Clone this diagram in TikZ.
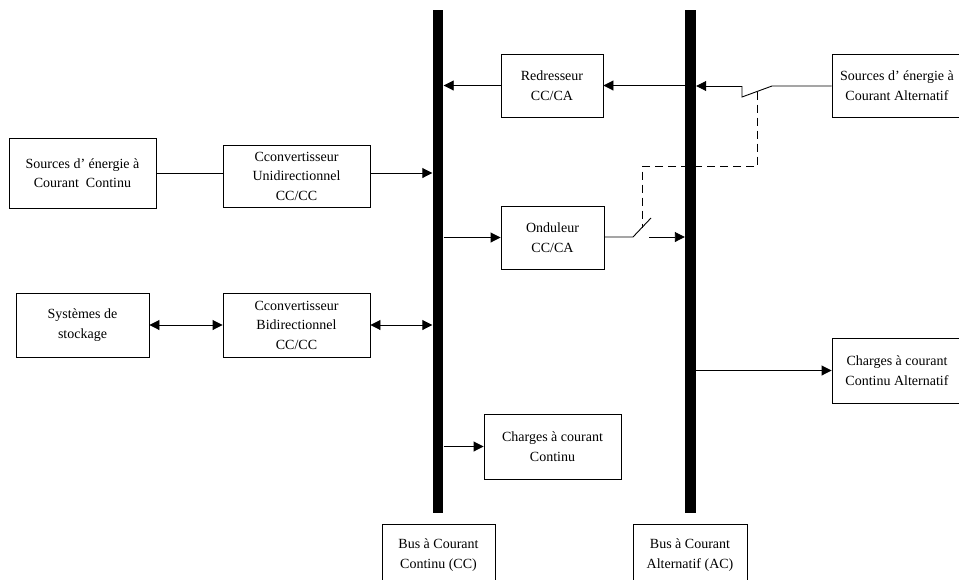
\documentclass[tikz,border=0pt]{standalone}
\usepackage{fontspec}
\setmainfont{Liberation Serif}
\usetikzlibrary{arrows.meta,calc}

\begin{document}
\begin{tikzpicture}
  [x=1pt,y=-1pt,line width=0.9pt,
   box/.style={draw,rectangle,align=center,inner sep=2pt,font=\fontsize{14}{19.5}\selectfont},
   bus/.style={fill=black,rectangle,minimum width=10.5pt,minimum height=503pt,inner sep=0pt},
   arr/.style={-{Triangle[length=10pt,width=10pt]}},
   darr/.style={{Triangle[length=10pt,width=10pt]}-{Triangle[length=10pt,width=10pt]}},
   sw/.style={dash pattern=on 8pt off 5pt}]
  \clip (0,0) rectangle (959,579);
  \fill[white] (0,0) rectangle (959,579);

  % boxes
  \node[box,minimum width=147pt,minimum height=70pt] (srcCC) at (82.5,173) {Sources d’ énergie à\\Courant\ \ Continu};
  \node[box,minimum width=147pt,minimum height=62pt] (convUni) at (296.5,176) {Cconvertisseur\\Unidirectionnel\\CC/CC};
  \node[box,minimum width=133pt,minimum height=64pt] (stock) at (82.5,325) {Systèmes de\\stockage};
  \node[box,minimum width=147pt,minimum height=64pt] (convBi) at (296.5,325) {Cconvertisseur\\Bidirectionnel\\CC/CC};
  \node[box,minimum width=102pt,minimum height=63pt] (redr) at (552,85.5) {Redresseur\\CC/CA};
  \node[box,minimum width=103pt,minimum height=63pt] (ond) at (552.5,237.5) {Onduleur\\CC/CA};
  \node[box,minimum width=137pt,minimum height=65pt] (chCC) at (552.5,446.5) {Charges à courant\\Continu};
  \node[box,minimum width=130pt,minimum height=63pt] (srcAC) at (897,85.5) {Sources d’ énergie à\\Courant Alternatif};
  \node[box,minimum width=130pt,minimum height=65pt] (chAC) at (897,370.5) {Charges à courant\\Continu Alternatif};
  \node[box,minimum width=113pt,minimum height=62pt] (lblCC) at (438.5,555) {Bus à Courant\\Continu (CC)};
  \node[box,minimum width=114pt,minimum height=62pt] (lblAC) at (690,555) {Bus à Courant\\Alternatif (AC)};

  % switches
  \coordinate (s1a) at (772,86);
  \coordinate (s1b) at (742,97);
  \coordinate (s1c) at (742,86);
  \coordinate (s2a) at (633,237);
  \coordinate (s2b) at (651,218);
  \coordinate (s2c) at (649,237);
  \draw (srcAC.west |- s1a) -- (s1a) -- (s1b) -- (s1c);
  \draw (ond.east |- s2a) -- (s2a) -- (s2b);
  \draw[sw] ($(s1a)!0.5!(s1b)$) -- ++(0,75) -| ($(s2a)!0.5!(s2b)$);

  % buses
  \node[bus] (busCC) at (438,261.5) {};
  \node[bus] (busAC) at (690.5,261.5) {};

  % connectors
  \draw (srcCC.east) -- (convUni.west |- srcCC.east);
  \draw[arr] (convUni.east |- srcCC.east) -- (busCC.west |- srcCC.east);
  \draw[darr] (stock.east) -- (convBi.west);
  \draw[darr] (convBi.east) -- (busCC.west |- convBi.east);
  \draw[arr] (redr.west) -- (busCC.east |- redr.west);
  \draw[arr] (busAC.west |- redr.east) -- (redr.east);
  \draw[arr] (s1c) -- (busAC.east |- s1c);
  \draw[arr] (busCC.east |- ond.west) -- (ond.west);
  \draw[arr] (s2c) -- (busAC.west |- s2c);
  \draw[arr] (busCC.east |- chCC.west) -- (chCC.west);
  \draw[arr] (busAC.east |- chAC.west) -- (chAC.west);
\end{tikzpicture}
\end{document}
